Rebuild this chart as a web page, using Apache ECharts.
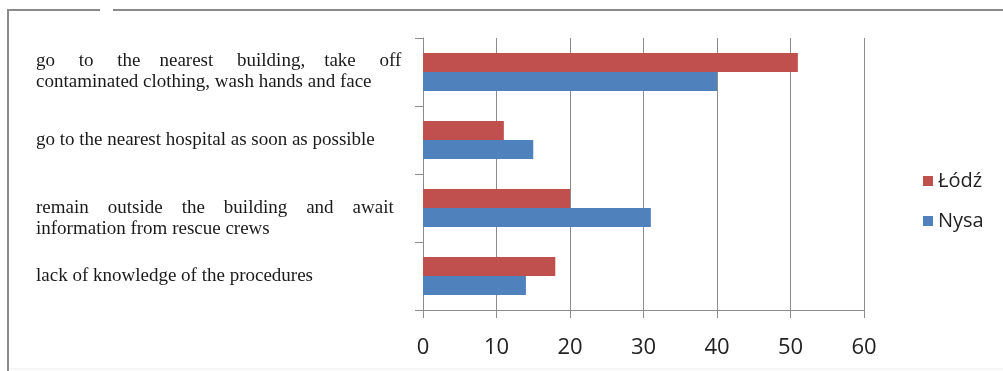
<!DOCTYPE html>
<html>
<head>
<meta charset="utf-8">
<script src="https://cdn.jsdelivr.net/npm/echarts@6/dist/echarts.min.js"></script>
<style>
  html, body { margin: 0; padding: 0; background: #fff; }
  #chart { width: 1003px; height: 371px; }
</style>
</head>
<body>
<div id="chart"></div>
<script>
// categories top to bottom (axis is inverse), extra spaces imitate justified lines
const categories = [
  'go     to     the    nearest     building,    take     off\ncontaminated clothing, wash hands and face',
  'go to the nearest hospital as soon as possible',
  '\nremain    outside    the    building    and    await\ninformation from rescue crews',
  'lack of knowledge of the procedures'
]
const lodzValues = [51, 11, 20, 18]
const nysaValues = [40, 15, 31, 14]
const xTicks = [0, 10, 20, 30, 40, 50, 60]

const chart = echarts.init(document.getElementById('chart'))

const option = {
  backgroundColor: '#fff',
  animation: false,
  grid: { left: 423, right: 139, top: 38, bottom: 61, containLabel: false },
  legend: {
    data: ['Łódź', 'Nysa'],
    orient: 'vertical',
    left: 918,
    top: 166,
    itemWidth: 10,
    itemHeight: 10,
    itemGap: 20,
    icon: 'rect',
    textStyle: { color: '#222', fontSize: 20, fontFamily: 'Open Sans' }
  },
  xAxis: {
    type: 'value',
    min: xTicks[0],
    max: xTicks[xTicks.length - 1],
    interval: 10,
    axisLine: { show: true, lineStyle: { color: '#8c8c8c', width: 1 }},
    axisTick: { show: true, length: 8, lineStyle: { color: '#8c8c8c' }},
    axisLabel: { color: '#222', fontSize: 22, fontFamily: 'Open Sans', margin: 27 },
    splitLine: { show: true, lineStyle: { color: '#8c8c8c', width: 1 }}
  },
  yAxis: {
    type: 'category',
    inverse: true,
    data: categories,
    axisLine: { show: true, lineStyle: { color: '#8c8c8c', width: 1 }},
    axisTick: { show: true, length: 8, lineStyle: { color: '#8c8c8c' }},
    axisLabel: {
      align: 'left',
      margin: 387,
      color: '#1a1a1a',
      fontSize: 19,
      lineHeight: 21,
      fontFamily: 'Liberation Serif'
    }
  },
  series: [
    {
      name: 'Łódź',
      type: 'bar',
      data: lodzValues,
      color: '#c0504d',
      barGap: '0%',
      barCategoryGap: '44%'
    },
    {
      name: 'Nysa',
      type: 'bar',
      data: nysaValues,
      color: '#4f81bd',
      barGap: '0%',
      barCategoryGap: '44%'
    }
  ],
  // frame of the original figure
  graphic: [
    { type: 'line', shape: { x1: 8, y1: 10, x2: 8, y2: 371 }, style: { stroke: '#8a8a8a', lineWidth: 2 }},
    { type: 'line', shape: { x1: 7, y1: 10, x2: 100, y2: 10 }, style: { stroke: '#8a8a8a', lineWidth: 2 }},
    { type: 'line', shape: { x1: 113, y1: 10, x2: 1003, y2: 10 }, style: { stroke: '#8a8a8a', lineWidth: 2 }},
    { type: 'line', shape: { x1: 9, y1: 369, x2: 1003, y2: 369 }, style: { stroke: '#ececec', lineWidth: 1 }}
  ]
}

chart.setOption(option)
window.addEventListener('resize', () => {
  chart.resize()
})
</script>
</body>
</html>
